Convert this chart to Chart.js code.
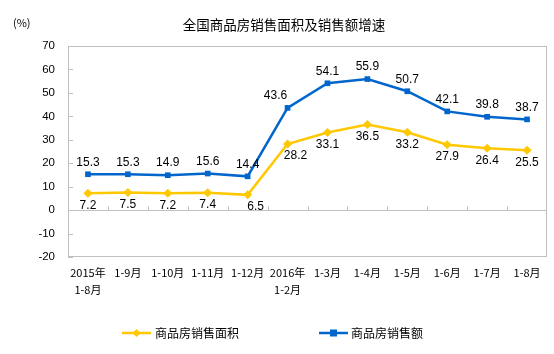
<!DOCTYPE html>
<html>
<head>
<meta charset="utf-8">
<script src="https://cdn.jsdelivr.net/npm/chart.js@4/dist/chart.umd.min.js"></script>
<style>
html,body{margin:0;padding:0;background:#fff;}
#wrap{width:554px;height:354px;position:relative;}
</style>
</head>
<body>
<div id="wrap"><canvas id="c" width="554" height="354"></canvas></div>
<script>
const categories = [["2015年","1-8月"],"1-9月","1-10月","1-11月","1-12月",["2016年","1-2月"],"1-3月","1-4月","1-5月","1-6月","1-7月","1-8月"];
const areaGrowth = [7.2,7.5,7.2,7.4,6.5,28.2,33.1,36.5,33.2,27.9,26.4,25.5];
const salesGrowth = [15.3,15.3,14.9,15.6,14.4,43.6,54.1,55.9,50.7,42.1,39.8,38.7];
const seriesNames = ["商品房销售面积","商品房销售额"];
const titleText = "全国商品房销售面积及销售额增速";
const unitText = "(%)";

const YELLOW = "#FFC800";
const BLUE = "#0066CC";
const GRID = "#BFBFBF";
const LATIN = "'Liberation Sans', Arial, sans-serif";
const CJK = "'Noto Sans CJK SC', sans-serif";

const decor = {
  id: "decor",
  afterDatasetsDraw(chart) {
    const ctx = chart.ctx;
    const a = chart.chartArea;
    const x = chart.scales.x, y = chart.scales.y;
    ctx.save();
    ctx.strokeStyle = GRID; ctx.lineWidth = 1;
    ctx.strokeRect(Math.round(a.left)+0.5, Math.round(a.top)+0.5, Math.round(a.right-a.left)-1, Math.round(a.bottom-a.top)-1);
    const y0 = Math.round(y.getPixelForValue(0)) + 0.5;
    ctx.beginPath(); ctx.moveTo(a.left, y0); ctx.lineTo(a.right, y0); ctx.stroke();
    const n = categories.length;
    for (let i = 1; i < n; i++) {
      const px = Math.round((x.getPixelForValue(i-1) + x.getPixelForValue(i))/2) + 0.5;
      ctx.beginPath(); ctx.moveTo(px, y0); ctx.lineTo(px, y0-4); ctx.stroke();
    }
    for (let v = -20; v <= 70; v += 10) {
      const py = Math.round(y.getPixelForValue(v)) + 0.5;
      ctx.beginPath(); ctx.moveTo(a.left, py); ctx.lineTo(a.left+5, py); ctx.stroke();
    }
    ctx.fillStyle = "#000";
    ctx.font = "12px " + LATIN;
    ctx.textAlign = "center";
    ctx.textBaseline = "middle";
    const m0 = chart.getDatasetMeta(0), m1 = chart.getDatasetMeta(1);
    areaGrowth.forEach((v, i) => {
      const p = m0.data[i];
      let dx = 0;
      if (i === 4 || i === 5) dx = 8;
      ctx.fillText(v.toFixed(1), p.x + dx, p.y + 12);
    });
    salesGrowth.forEach((v, i) => {
      const p = m1.data[i];
      let dx = 0;
      if (i === 5) dx = -12;
      ctx.fillText(v.toFixed(1), p.x + dx, p.y - 12);
    });
    ctx.font = "13.5px " + CJK;
    ctx.fillText(titleText, 284, 25);
    ctx.font = "11px " + CJK;
    ctx.textAlign = "left";
    ctx.fillText(unitText, 13, 23);
    const ly = 333;
    ctx.lineWidth = 2.5;
    ctx.strokeStyle = YELLOW;
    ctx.beginPath(); ctx.moveTo(122, ly); ctx.lineTo(151, ly); ctx.stroke();
    ctx.fillStyle = YELLOW;
    ctx.beginPath(); ctx.moveTo(136.5, ly-4); ctx.lineTo(140.5, ly); ctx.lineTo(136.5, ly+4); ctx.lineTo(132.5, ly); ctx.closePath(); ctx.fill();
    ctx.strokeStyle = BLUE;
    ctx.beginPath(); ctx.moveTo(319, ly); ctx.lineTo(348, ly); ctx.stroke();
    ctx.fillStyle = BLUE;
    ctx.fillRect(330, ly-3.5, 7, 7);
    ctx.fillStyle = "#000";
    ctx.font = "12px " + CJK;
    ctx.fillText(seriesNames[0], 155, ly);
    ctx.fillText(seriesNames[1], 351, ly);
    ctx.restore();
  }
};

new Chart(document.getElementById("c"), {
  type: "line",
  data: {
    labels: categories,
    datasets: [
      { label: seriesNames[0], data: areaGrowth, borderColor: YELLOW, backgroundColor: YELLOW,
        borderWidth: 2.5, pointStyle: "rectRot", pointRadius: 4.5, pointBorderWidth: 0, tension: 0 },
      { label: seriesNames[1], data: salesGrowth, borderColor: BLUE, backgroundColor: BLUE,
        borderWidth: 2.5, pointStyle: "rect", pointRadius: 4, pointBorderWidth: 0, tension: 0 }
    ]
  },
  options: {
    responsive: false,
    animation: false,
    devicePixelRatio: 1,
    layout: { padding: { left: 0, right: 7, top: 46, bottom: 0 } },
    plugins: { legend: { display: false }, title: { display: false }, tooltip: { enabled: false } },
    scales: {
      x: {
        offset: true,
        grid: { display: false, drawTicks: false },
        border: { display: false },
        ticks: { color: "#000", font: { family: CJK, size: 11, lineHeight: 1.55 }, maxRotation: 0, autoSkip: false, padding: 7 },
        afterFit(s) { s.height = 97; }
      },
      y: {
        min: -20, max: 70,
        grid: { display: false, drawTicks: false },
        border: { display: false },
        ticks: { stepSize: 10, color: "#000", font: { family: LATIN, size: 11.5 }, padding: 13 },
        afterFit(s) { s.width = 68; }
      }
    }
  },
  plugins: [decor]
});
</script>
</body>
</html>
